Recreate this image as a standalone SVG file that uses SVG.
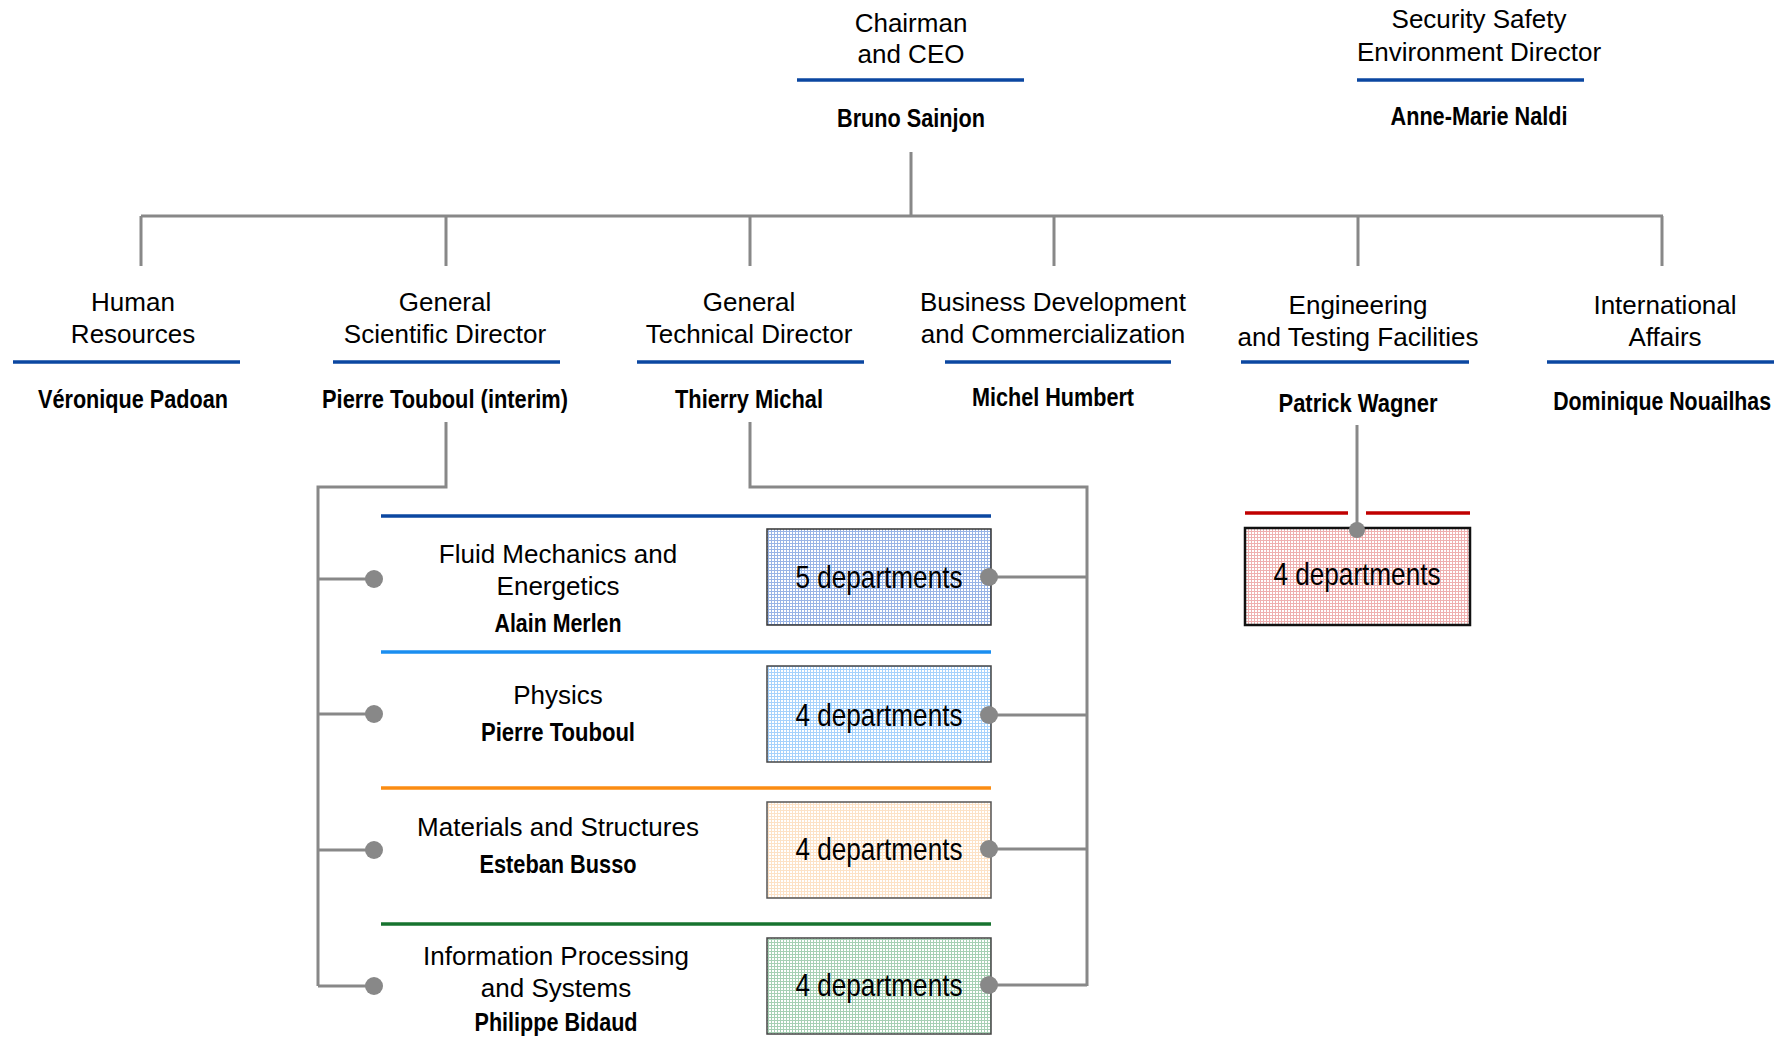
<svg xmlns="http://www.w3.org/2000/svg" width="1789" height="1037" viewBox="0 0 1789 1037">
<style>
.t{font-family:"Liberation Sans",Arial,sans-serif;font-size:26px;fill:#000;text-anchor:middle}
.n{font-family:"Liberation Sans",Arial,sans-serif;font-weight:bold;font-size:26px;fill:#000;text-anchor:middle}
.d{font-family:"Liberation Sans",Arial,sans-serif;font-size:32px;fill:#000;text-anchor:middle}
.u{stroke:#0b47a1;stroke-width:3.5;fill:none}
.c{stroke:#888;stroke-width:3;fill:none}
.dot{fill:#888}
</style>
<defs>
<pattern id="pB" width="3" height="3" patternUnits="userSpaceOnUse"><rect width="3" height="3" fill="#fff"/><rect width="3" height="1" fill="#98b4e6"/><rect width="1" height="3" fill="#98b4e6"/></pattern>
<pattern id="pL" width="3" height="3" patternUnits="userSpaceOnUse"><rect width="3" height="3" fill="#fff"/><rect width="3" height="1" fill="#a6d2fc"/><rect width="1" height="3" fill="#a6d2fc"/></pattern>
<pattern id="pO" width="3" height="3" patternUnits="userSpaceOnUse"><rect width="3" height="3" fill="#fff"/><rect width="3" height="1" fill="#fde2c6"/><rect width="1" height="3" fill="#fde2c6"/></pattern>
<pattern id="pG" width="3" height="3" patternUnits="userSpaceOnUse"><rect width="3" height="3" fill="#fff"/><rect width="3" height="1" fill="#a6d0b4"/><rect width="1" height="3" fill="#a6d0b4"/></pattern>
<pattern id="pR" width="3" height="3" patternUnits="userSpaceOnUse"><rect width="3" height="3" fill="#fff"/><rect width="3" height="1" fill="#efb0b0"/><rect width="1" height="3" fill="#efb0b0"/></pattern>
</defs>
<rect width="1789" height="1037" fill="#fff"/>

<g id="connectors">
<path class="c" d="M911 152V216M141 216H1663M141 216V266M446 216V266M750 216V266M1054 216V266M1358 216V266M1662 216V266"/>
<path class="c" d="M446 422V487H318V986M318 579H374M318 714H374M318 850H374M318 986H374"/>
<path class="c" d="M750 422V487H1087V986M989 577H1087M989 715H1087M989 849H1087M989 985H1087"/>
<path class="c" d="M1357 425V530"/>
</g>

<g id="chairman">
<text class="t" x="911" y="32">Chairman</text>
<text class="t" x="911" y="63">and CEO</text>
<line class="u" x1="797" y1="80" x2="1024" y2="80"/>
<text class="n" x="911" y="127" textLength="148" lengthAdjust="spacingAndGlyphs">Bruno Sainjon</text>
</g>
<g id="sse">
<text class="t" x="1479" y="28">Security Safety</text>
<text class="t" x="1479" y="61">Environment Director</text>
<line class="u" x1="1357" y1="80" x2="1584" y2="80"/>
<text class="n" x="1479" y="125" textLength="177" lengthAdjust="spacingAndGlyphs">Anne-Marie Naldi</text>
</g>
<g id="hr">
<text class="t" x="133" y="311">Human</text>
<text class="t" x="133" y="343">Resources</text>
<line class="u" x1="13" y1="362" x2="240" y2="362"/>
<text class="n" x="133" y="408" textLength="190" lengthAdjust="spacingAndGlyphs">Véronique Padoan</text>
</g>
<g id="gsd">
<text class="t" x="445" y="311">General</text>
<text class="t" x="445" y="343">Scientific Director</text>
<line class="u" x1="333" y1="362" x2="560" y2="362"/>
<text class="n" x="445" y="408" textLength="246" lengthAdjust="spacingAndGlyphs">Pierre Touboul (interim)</text>
</g>
<g id="gtd">
<text class="t" x="749" y="311">General</text>
<text class="t" x="749" y="343">Technical Director</text>
<line class="u" x1="637" y1="362" x2="864" y2="362"/>
<text class="n" x="749" y="408" textLength="148" lengthAdjust="spacingAndGlyphs">Thierry Michal</text>
</g>
<g id="bd">
<text class="t" x="1053" y="311">Business Development</text>
<text class="t" x="1053" y="343">and Commercialization</text>
<line class="u" x1="945" y1="362" x2="1171" y2="362"/>
<text class="n" x="1053" y="406" textLength="162" lengthAdjust="spacingAndGlyphs">Michel Humbert</text>
</g>
<g id="etf">
<text class="t" x="1358" y="314">Engineering</text>
<text class="t" x="1358" y="346">and Testing Facilities</text>
<line class="u" x1="1241" y1="362" x2="1469" y2="362"/>
<text class="n" x="1358" y="412" textLength="159" lengthAdjust="spacingAndGlyphs">Patrick Wagner</text>
</g>
<g id="ia">
<text class="t" x="1665" y="314">International</text>
<text class="t" x="1665" y="346">Affairs</text>
<line class="u" x1="1547" y1="362" x2="1774" y2="362"/>
<text class="n" x="2027" y="410" transform="scale(0.82 1)">Dominique Nouailhas</text>
</g>

<g id="fluid">
<line x1="381" y1="516" x2="991" y2="516" stroke="#0b47a1" stroke-width="3.5"/>
<text class="t" x="558" y="563">Fluid Mechanics and</text>
<text class="t" x="558" y="595">Energetics</text>
<text class="n" x="558" y="632" textLength="127" lengthAdjust="spacingAndGlyphs">Alain Merlen</text>
<circle class="dot" cx="374" cy="579" r="9"/>
<rect x="767" y="529" width="224" height="96" fill="url(#pB)" stroke="#333" stroke-width="1.5"/>
<text class="d" x="879" y="588" textLength="167" lengthAdjust="spacingAndGlyphs">5 departments</text>
<circle class="dot" cx="989" cy="577" r="9"/>
</g>
<g id="physics">
<line x1="381" y1="652" x2="991" y2="652" stroke="#1a8ef0" stroke-width="3.5"/>
<text class="t" x="558" y="704">Physics</text>
<text class="n" x="558" y="741" textLength="154" lengthAdjust="spacingAndGlyphs">Pierre Touboul</text>
<circle class="dot" cx="374" cy="714" r="9"/>
<rect x="767" y="666" width="224" height="96" fill="url(#pL)" stroke="#444" stroke-width="1.5"/>
<text class="d" x="879" y="726" textLength="167" lengthAdjust="spacingAndGlyphs">4 departments</text>
<circle class="dot" cx="989" cy="715" r="9"/>
</g>
<g id="materials">
<line x1="381" y1="788" x2="991" y2="788" stroke="#fb8c12" stroke-width="3.5"/>
<text class="t" x="558" y="836">Materials and Structures</text>
<text class="n" x="558" y="873" textLength="157" lengthAdjust="spacingAndGlyphs">Esteban Busso</text>
<circle class="dot" cx="374" cy="850" r="9"/>
<rect x="767" y="802" width="224" height="96" fill="url(#pO)" stroke="#555" stroke-width="1.5"/>
<text class="d" x="879" y="860" textLength="167" lengthAdjust="spacingAndGlyphs">4 departments</text>
<circle class="dot" cx="989" cy="849" r="9"/>
</g>
<g id="info">
<line x1="381" y1="924" x2="991" y2="924" stroke="#17732f" stroke-width="3.5"/>
<text class="t" x="556" y="965">Information Processing</text>
<text class="t" x="556" y="997">and Systems</text>
<text class="n" x="556" y="1031" textLength="163" lengthAdjust="spacingAndGlyphs">Philippe Bidaud</text>
<circle class="dot" cx="374" cy="986" r="9"/>
<rect x="767" y="938" width="224" height="96" fill="url(#pG)" stroke="#444" stroke-width="1.5"/>
<text class="d" x="879" y="996" textLength="167" lengthAdjust="spacingAndGlyphs">4 departments</text>
<circle class="dot" cx="989" cy="985" r="9"/>
</g>
<g id="etf-depts">
<line x1="1245" y1="513" x2="1348" y2="513" stroke="#c00000" stroke-width="3.5"/>
<line x1="1366" y1="513" x2="1470" y2="513" stroke="#c00000" stroke-width="3.5"/>
<rect x="1245" y="528" width="225" height="97" fill="url(#pR)" stroke="#111" stroke-width="2.5"/>
<text class="d" x="1357" y="585" textLength="167" lengthAdjust="spacingAndGlyphs">4 departments</text>
<circle class="dot" cx="1357" cy="530" r="8"/>
</g>
</svg>
